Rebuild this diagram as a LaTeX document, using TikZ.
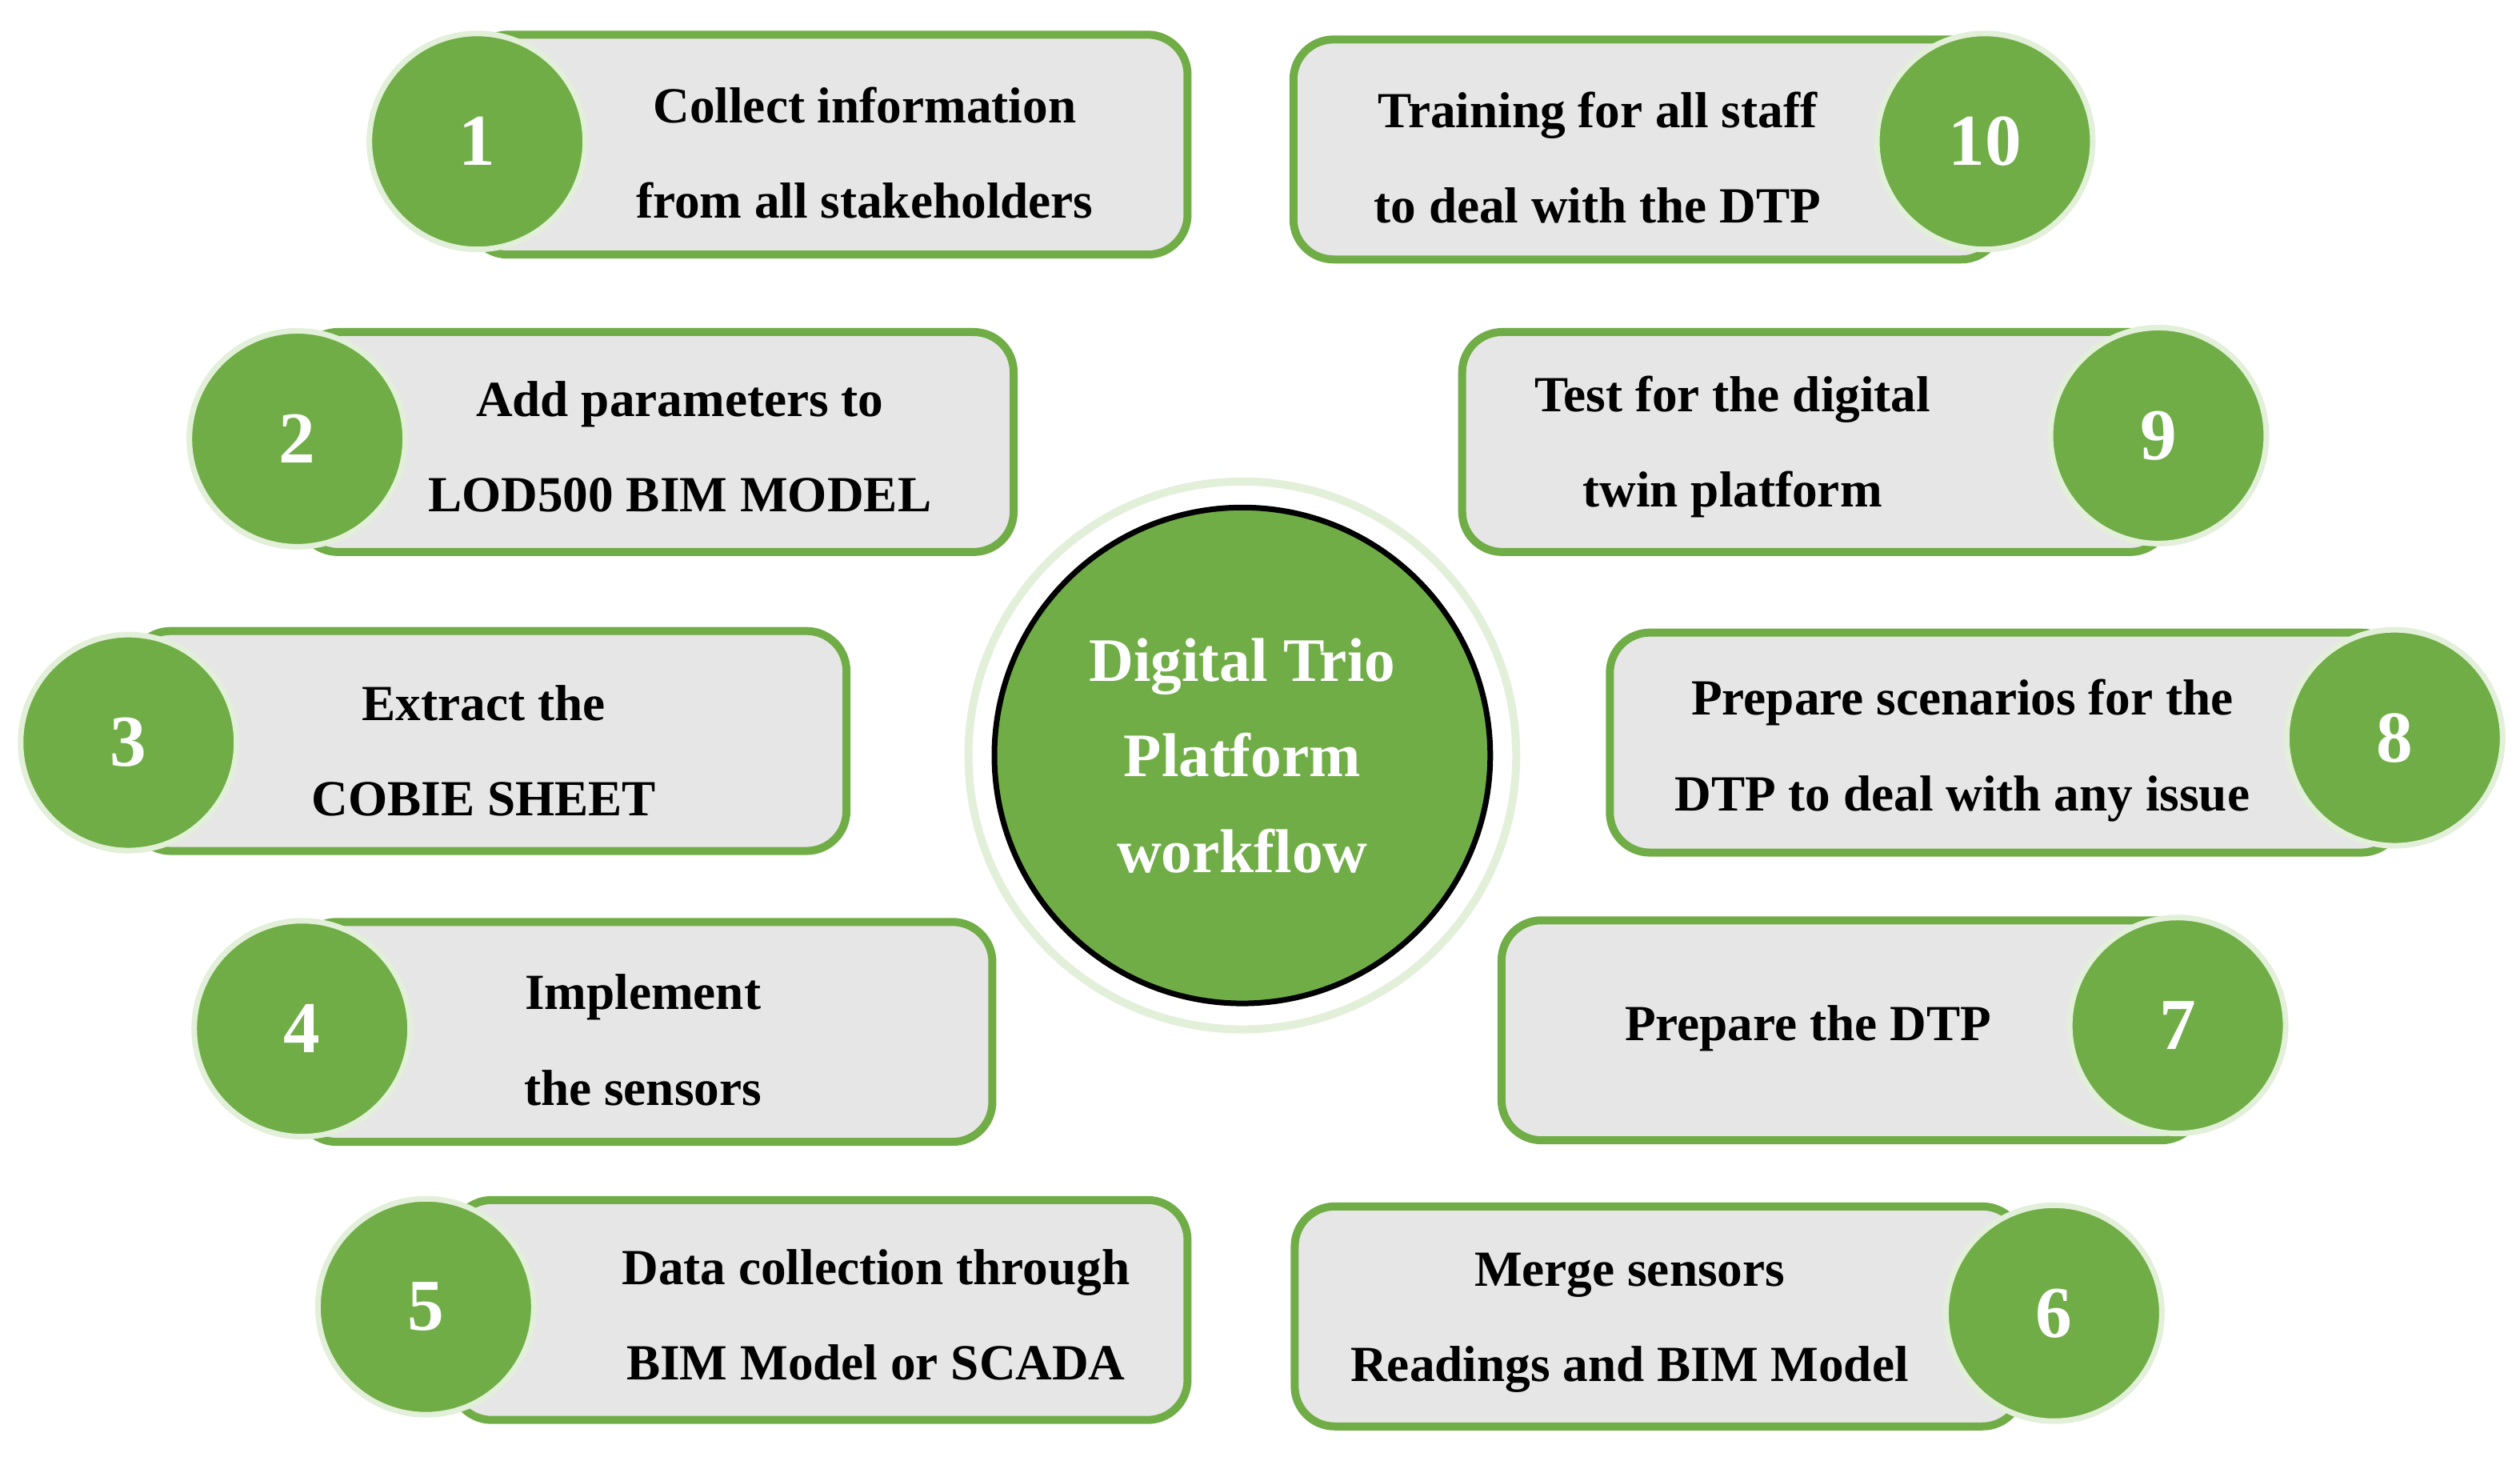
\documentclass[tikz,border=0pt]{standalone}
\usepackage{fontspec}
\setmainfont{Liberation Serif}
\definecolor{stepgreen}{HTML}{70AD47}
\definecolor{stepgray}{HTML}{E7E6E6}
\definecolor{halo}{HTML}{E2EFD9}
\tikzset{
  stepbox/.style={draw=stepgreen, fill=stepgray, line width=0.1cm, rounded corners=0.5cm,
    minimum height=2.75cm, inner sep=0pt},
  stepnum/.style={circle, fill=stepgreen, draw=halo, line width=0.07cm, minimum size=2.7cm,
    text=white, font=\bfseries\fontsize{26}{30}\selectfont},
  steptext/.style={align=center, font=\bfseries\fontsize{18}{34}\selectfont, text=black},
}
\begin{document}
\begin{tikzpicture}[x=0.02009cm, y=-0.02009cm]
\useasboundingbox (0,0) rectangle (1568,906);

% boxes
\node[stepbox, minimum width=9.0cm]  (b1)  at (515,90)   {};
\node[stepbox, minimum width=8.85cm] (b10) at (1025,93)  {};
\node[stepbox, minimum width=8.95cm] (b2)  at (408,275)  {};
\node[stepbox, minimum width=8.85cm] (b9)  at (1130,275) {};
\node[stepbox, minimum width=8.95cm] (b3)  at (304,461)  {};
\node[stepbox, minimum width=9.9cm]  (b8)  at (1248,462) {};
\node[stepbox, minimum width=8.7cm]  (b4)  at (401,642)  {};
\node[stepbox, minimum width=8.75cm] (b7)  at (1152,641) {};
\node[stepbox, minimum width=9.2cm]  (b5)  at (510,815)  {};
\node[stepbox, minimum width=9.1cm]  (b6)  at (1032,819) {};

% texts
\node[steptext] (t1)  at (538,95)   {Collect information\\from all stakeholders};
\node[steptext] (t10) at (994,98)   {Training for all staff\\to deal with the DTP};
\node[steptext] (t2)  at (423,278)  {Add parameters to\\LOD500 BIM MODEL};
\node[steptext] (t9)  at (1078,278) {Test for the digital\\twin platform};
\node[steptext] (t3)  at (301,467)  {Extract the\\COBIE SHEET};
\node[steptext] (t8)  at (1221,467) {Prepare scenarios for the\\DTP to deal with any issue};
\node[steptext] (t4)  at (400,647)  {Implement\\the sensors};
\node[steptext] (t7)  at (1125,640) {Prepare the DTP};
\node[steptext] (t5)  at (545,818)  {Data collection through\\BIM Model or SCADA};
\node[steptext] (t6)  at (1014,823) {Merge sensors\\Readings and BIM Model};

% numbers
\node[stepnum] (n1)  at (297,88)   {1};
\node[stepnum] (n10) at (1235,88)  {10};
\node[stepnum] (n2)  at (185,273)  {2};
\node[stepnum] (n9)  at (1343,271) {9};
\node[stepnum] (n3)  at (80,462)   {3};
\node[stepnum] (n8)  at (1490,459) {8};
\node[stepnum] (n4)  at (188,640)  {4};
\node[stepnum] (n7)  at (1355,638) {7};
\node[stepnum] (n5)  at (265,813)  {5};
\node[stepnum] (n6)  at (1278,817) {6};

% centre
\node[circle, draw=halo, line width=0.1cm, minimum size=6.85cm] (halo) at (773,470) {};
\node[circle, fill=stepgreen, draw=black, line width=0.07cm, minimum size=6.2cm, align=center,
  text=white, font=\bfseries\fontsize{22}{34}\selectfont] (hub) at (773,470)
  {Digital Trio\\Platform\\workflow};
\end{tikzpicture}
\end{document}
